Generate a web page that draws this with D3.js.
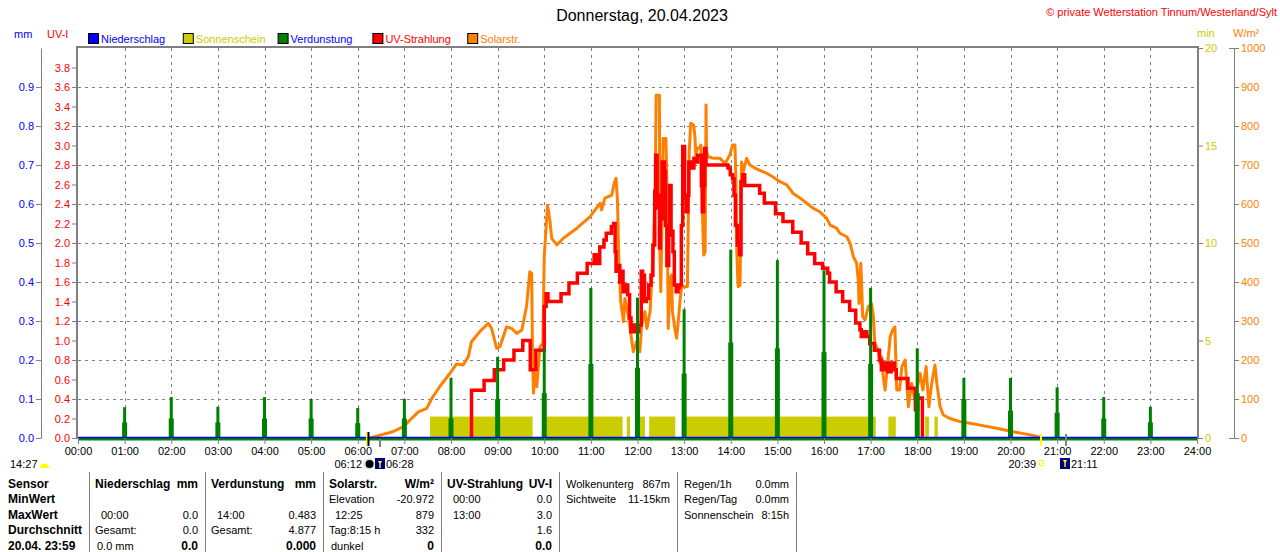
<!DOCTYPE html>
<html lang="de">
<head>
<meta charset="UTF-8">
<title>Donnerstag, 20.04.2023</title>
<script src="https://cdnjs.cloudflare.com/ajax/libs/d3/7.8.5/d3.min.js"></script>
<style>
    body { margin: 0; background: #fff; }
    svg { display: block; font-family: "Liberation Sans", Arial, sans-serif; }
</style>
</head>
<body>
<svg id="chart" width="1280" height="552"></svg>
<script>
// ---- data ----
const tickHours = d3.range(0, 25);
const mmTicks = d3.range(0, 10).map(i => i / 10);
const uvTicks = d3.range(0, 20).map(i => i / 5);
const uvGrid = d3.range(1, 10).map(i => i * 0.4);
const minTicks = [0, 5, 10, 15, 20];
const wTicks = d3.range(0, 11).map(i => i * 100);

const legendNames = ["Niederschlag", "Sonnenschein", "Verdunstung", "UV-Strahlung", "Solarstr."];
const legendBox = ["#0000ff", "#cccc00", "#008000", "#ff0000", "#ff8000"];
const legendText = ["#0000ff", "#cccc00", "#0000ff", "#ff0000", "#ff8000"];

// Verdunstung, hourly spikes (mm): peak and lower shoulder
const verdHours = d3.range(1, 24);
const verdPeak = [0.079, 0.105, 0.08, 0.105, 0.10, 0.077, 0.10, 0.154, 0.208, 0.23, 0.385, 0.36,
                  0.33, 0.483, 0.456, 0.43, 0.385, 0.23, 0.154, 0.154, 0.13, 0.105, 0.08];
const verdLow = [0.04, 0.05, 0.04, 0.05, 0.05, 0.038, 0.05, 0.05, 0.10, 0.115, 0.19, 0.18,
                 0.165, 0.245, 0.23, 0.22, 0.19, 0.115, 0.10, 0.07, 0.065, 0.05, 0.04];

// Niederschlag: nothing all day
const niederschlag = [[0, 0], [24, 0]];

// Sonnenschein intervals [from, to] in hours, level in min/min
const sunIntervals = [[7.55, 9.75], [9.98, 11.68], [11.77, 11.84], [12.05, 12.16], [12.25, 12.81],
                      [13.04, 17.11], [17.38, 17.54], [18.17, 18.25], [18.37, 18.44]];
const sunLevel = 1.1;

// Solarstrahlung [hour, W/m²]
const solar = [
    [6.26, 0], [6.5, 8], [6.75, 16], [6.98, 29], [7.12, 46], [7.30, 67], [7.48, 76], [7.59, 102],
    [7.76, 132], [7.98, 166], [8.12, 190], [8.26, 187], [8.37, 208], [8.44, 247], [8.62, 273],
    [8.80, 294], [8.87, 281], [8.98, 230], [9.05, 234], [9.19, 285], [9.30, 281], [9.41, 268],
    [9.52, 277], [9.62, 337], [9.66, 388], [9.69, 426], [9.73, 422], [9.75, 200], [9.77, 115],
    [9.80, 166], [9.84, 132], [9.91, 234], [9.97, 243], [10.00, 465], [10.07, 597], [10.12, 559],
    [10.16, 512], [10.27, 495], [10.41, 512], [10.70, 538], [10.98, 567], [11.20, 602], [11.23, 585],
    [11.30, 615], [11.45, 623], [11.50, 653], [11.54, 666], [11.57, 610], [11.60, 456], [11.64, 350],
    [11.70, 298], [11.73, 358], [11.80, 315], [11.88, 247], [11.91, 221], [11.98, 247], [12.05, 221],
    [12.09, 290], [12.16, 324], [12.20, 281], [12.27, 324], [12.30, 392], [12.34, 486], [12.38, 649],
    [12.40, 879], [12.47, 879], [12.48, 478], [12.50, 375], [12.52, 521], [12.55, 768], [12.61, 768],
    [12.63, 649], [12.65, 410], [12.66, 281], [12.70, 410], [12.73, 418], [12.75, 324], [12.80, 281],
    [12.84, 256], [12.88, 307], [12.91, 350], [12.95, 392], [12.98, 388], [13.07, 388], [13.09, 563],
    [13.11, 734], [13.14, 807], [13.20, 803], [13.23, 777], [13.25, 726], [13.28, 743], [13.32, 743],
    [13.36, 751], [13.40, 546], [13.42, 469], [13.45, 478], [13.47, 854], [13.48, 734], [13.52, 721],
    [13.63, 717], [13.77, 717], [13.88, 704], [13.98, 726], [14.04, 751], [14.09, 751], [14.11, 666],
    [14.13, 478], [14.15, 410], [14.16, 388], [14.20, 392], [14.23, 708], [14.27, 683], [14.34, 717],
    [14.41, 700], [14.55, 690], [14.75, 680], [14.90, 670], [15.06, 657], [15.20, 649], [15.34, 627],
    [15.49, 615], [15.63, 602], [15.77, 589], [15.91, 580], [16.06, 563], [16.13, 546], [16.27, 538],
    [16.34, 525], [16.49, 516], [16.56, 499], [16.63, 465], [16.70, 448], [16.74, 397], [16.75, 345],
    [16.79, 448], [16.83, 311], [16.88, 303], [16.95, 337], [17.02, 345], [17.06, 311], [17.09, 243],
    [17.16, 226], [17.20, 192], [17.24, 208], [17.27, 157], [17.31, 123], [17.36, 183], [17.42, 260],
    [17.47, 277], [17.52, 285], [17.56, 123], [17.62, 123], [17.67, 183], [17.74, 200], [17.81, 80],
    [17.88, 140], [17.95, 97], [18.06, 166], [18.12, 123], [18.19, 183], [18.25, 80], [18.31, 140],
    [18.38, 187], [18.42, 140], [18.49, 80], [18.56, 59], [18.70, 50], [18.92, 42], [19.13, 38],
    [19.35, 33], [19.70, 25], [20.06, 16], [20.42, 8], [20.60, 3], [20.65, 0]
];

// UV-Strahlung [hour, UV-I], held until next point
const uv = [
    [8.44, 0], [8.44, 0.49], [8.71, 0.59], [8.93, 0.70], [9.13, 0.80], [9.35, 0.90], [9.54, 1.00],
    [9.70, 0.70], [9.82, 0.90], [10.0, 1.35], [10.04, 1.48], [10.08, 1.40], [10.36, 1.48],
    [10.53, 1.59], [10.71, 1.69], [10.92, 1.79], [11.07, 1.88], [11.13, 1.79], [11.19, 1.96],
    [11.28, 2.03], [11.33, 2.10], [11.44, 2.17], [11.49, 2.20], [11.52, 1.91], [11.54, 1.71],
    [11.58, 1.77], [11.62, 1.60], [11.65, 1.71], [11.69, 1.50], [11.75, 1.57], [11.79, 1.47],
    [11.83, 1.23], [11.86, 1.09], [11.90, 1.16], [11.96, 1.09], [12.03, 1.16], [12.08, 1.71],
    [12.11, 1.67], [12.15, 1.40], [12.19, 1.43], [12.24, 1.57], [12.29, 1.67], [12.33, 1.98],
    [12.37, 2.53], [12.39, 2.90], [12.42, 2.36], [12.45, 2.49], [12.47, 1.95], [12.49, 2.25],
    [12.53, 2.83], [12.58, 2.73], [12.60, 2.18], [12.63, 1.77], [12.67, 2.08], [12.69, 2.59],
    [12.72, 2.12], [12.76, 1.91], [12.79, 1.57], [12.83, 1.50], [12.87, 1.54], [12.90, 1.57],
    [12.94, 2.18], [12.97, 2.99], [13.01, 2.46], [13.05, 2.32], [13.08, 2.49], [13.10, 2.83],
    [13.15, 2.77], [13.21, 2.87], [13.26, 2.83], [13.29, 2.90], [13.37, 2.59], [13.39, 2.32],
    [13.42, 2.59], [13.44, 2.97], [13.47, 2.80], [13.94, 2.77], [13.99, 2.70], [14.04, 2.66],
    [14.07, 2.49], [14.10, 2.18], [14.14, 1.98], [14.17, 2.01], [14.19, 1.88], [14.22, 2.63],
    [14.26, 2.70], [14.30, 2.59], [14.62, 2.51], [14.72, 2.41], [14.96, 2.30], [15.12, 2.22],
    [15.33, 2.11], [15.51, 2.00], [15.65, 1.89], [15.80, 1.79], [15.97, 1.74], [16.08, 1.69],
    [16.12, 1.60], [16.26, 1.50], [16.40, 1.40], [16.55, 1.31], [16.68, 1.18], [16.77, 1.11],
    [16.80, 1.04], [16.87, 1.09], [16.92, 1.04], [16.98, 0.97], [17.08, 0.90], [17.19, 0.80],
    [17.23, 0.70], [17.30, 0.77], [17.37, 0.68], [17.44, 0.77], [17.51, 0.70], [17.55, 0.61],
    [17.80, 0.51], [17.96, 0.29], [18.01, 0.41], [18.11, 0]
];

// sunrise / sunset marks under the axis
const sunTimes = [
    { t: 6.2, label: "06:12", kind: "dawn" },
    { t: 6.467, label: "06:28", kind: "rise" },
    { t: 20.65, label: "20:39", kind: "dusk" },
    { t: 21.183, label: "21:11", kind: "set" }
];

// table below the chart
const rowNames = ["Sensor", "MinWert", "MaxWert", "Durchschnitt", "20.04. 23:59"];
const tableCols = [
    [["Niederschlag", "mm"], ["", ""], ["00:00", "0.0"], ["Gesamt:", "0.0"], ["0.0 mm", "0.0"]],
    [["Verdunstung", "mm"], ["", ""], ["14:00", "0.483"], ["Gesamt:", "4.877"], ["", "0.000"]],
    [["Solarstr.", "W/m²"], ["Elevation", "-20.972"], ["12:25", "879"], ["Tag:8:15 h", "332"], ["dunkel", "0"]],
    [["UV-Strahlung", "UV-I"], ["00:00", "0.0"], ["13:00", "3.0"], ["", "1.6"], ["", "0.0"]]
];
const infoCols = [
    [["Wolkenunterg", "867m"], ["Sichtweite", "11-15km"]],
    [["Regen/1h", "0.0mm"], ["Regen/Tag", "0.0mm"], ["Sonnenschein", "8:15h"]]
];

// ---- layout ----
const L = 78, R = 1197, T = 48, B = 438;
const gray = "#808080";
const svg = d3.select("#chart");

const x = d3.scaleLinear().domain([0, 24]).range([L, R]);
const yUV = d3.scaleLinear().domain([0, 4]).range([B, T]);
const yMM = d3.scaleLinear().domain([0, 1]).range([B, T]);
const yW = d3.scaleLinear().domain([0, 1000]).range([B, T]);
const yMin = d3.scaleLinear().domain([0, 20]).range([B, T]);

function txt(px, py, s, fill, size, opts = {}) {
    return svg.append("text")
        .attr("x", px).attr("y", py)
        .attr("fill", fill)
        .attr("font-size", size)
        .attr("font-weight", opts.bold ? "bold" : null)
        .attr("text-anchor", opts.anchor || "start")
        .text(s);
}

// title and copyright
txt(642, 21, "Donnerstag, 20.04.2023", "#000", 16, { anchor: "middle" });
txt(1277, 16, "© private Wetterstation Tinnum/Westerland/Sylt", "#ff0000", 11, { anchor: "end" });

// unit labels
txt(14, 38, "mm", "#0000ff", 11);
txt(47, 38, "UV-I", "#ff0000", 11);
txt(1197, 37, "min", "#cccc00", 11);
txt(1233, 37, "W/m²", "#ff8000", 11);

// legend
legendNames.forEach((n, i) => {
    const lx = 88 + i * 94.8;
    svg.append("rect").attr("x", lx + 0.5).attr("y", 33.5).attr("width", 10).attr("height", 10)
        .attr("fill", legendBox[i]).attr("stroke", "#000");
    txt(lx + 13, 42.5, n, legendText[i], 11);
});

// grid
const grid = svg.append("g").attr("stroke", gray).attr("stroke-dasharray", "3,4");
grid.selectAll("line.h").data(uvGrid).join("line").attr("class", "h")
    .attr("x1", L).attr("x2", R)
    .attr("y1", d => Math.round(yUV(d)) + 0.5).attr("y2", d => Math.round(yUV(d)) + 0.5);
grid.selectAll("line.v").data(d3.range(1, 24)).join("line").attr("class", "v")
    .attr("y1", T).attr("y2", B)
    .attr("x1", d => Math.round(x(d)) + 0.5).attr("x2", d => Math.round(x(d)) + 0.5);

// plot frame
svg.append("rect").attr("x", L - 1).attr("y", T - 1).attr("width", R - L + 2).attr("height", B - T + 1)
    .attr("fill", "none").attr("stroke", gray).attr("stroke-width", 2);

// Sonnenschein blocks
svg.append("g").selectAll("rect").data(sunIntervals).join("rect")
    .attr("x", d => x(d[0])).attr("width", d => x(d[1]) - x(d[0]))
    .attr("y", yMin(sunLevel)).attr("height", yMin(0) - yMin(sunLevel))
    .attr("fill", "#cccc00");

// Solarstrahlung
svg.append("path").datum(solar)
    .attr("fill", "none").attr("stroke", "#ff8000").attr("stroke-width", 3)
    .attr("stroke-linejoin", "round")
    .attr("d", d3.line().x(d => x(d[0])).y(d => yW(d[1])));

// UV-Strahlung
svg.append("path").datum(uv)
    .attr("fill", "none").attr("stroke", "#ff0000").attr("stroke-width", 3.5)
    .attr("d", d3.line().curve(d3.curveStepAfter).x(d => x(d[0])).y(d => yUV(d[1])));

// Verdunstung spikes
const verd = svg.append("g").attr("fill", "#008000");
verd.selectAll("rect.low").data(verdHours).join("rect").attr("class", "low")
    .attr("x", h => x(h) - 2.5).attr("width", 5)
    .attr("y", (h, i) => yMM(verdLow[i])).attr("height", (h, i) => yMM(0) - yMM(verdLow[i]));
verd.selectAll("rect.peak").data(verdHours).join("rect").attr("class", "peak")
    .attr("x", h => x(h) - 1.5).attr("width", 3)
    .attr("y", (h, i) => yMM(verdPeak[i])).attr("height", (h, i) => yMM(0) - yMM(verdPeak[i]));

// zero lines: Verdunstung (green) and Niederschlag (blue)
svg.append("path").datum(niederschlag)
    .attr("stroke", "#008000").attr("stroke-width", 2.5).attr("fill", "none")
    .attr("d", d3.line().x(d => x(d[0])).y(d => yMM(d[1]) + 1.2));
svg.append("path").datum(niederschlag)
    .attr("stroke", "#0000ff").attr("stroke-width", 1.5).attr("fill", "none")
    .attr("d", d3.line().x(d => x(d[0])).y(d => yMM(d[1]) - 0.5));

// axes
function styleAxis(g, color) {
    g.selectAll("line").attr("stroke", gray);
    g.selectAll("path.domain").attr("stroke", gray);
    g.selectAll("text").attr("fill", color).attr("font-size", 11)
        .attr("font-family", "\"Liberation Sans\", Arial, sans-serif");
}

svg.append("g").attr("transform", "translate(41,0)")
    .call(d3.axisLeft(yMM).tickValues(mmTicks).tickFormat(d3.format(".1f"))
        .tickSize(5).tickSizeOuter(0).tickPadding(2))
    .call(g => styleAxis(g, "#0000ff"));

svg.append("g").attr("transform", `translate(${L - 1},0)`)
    .call(d3.axisLeft(yUV).tickValues(uvTicks).tickFormat(d3.format(".1f"))
        .tickSize(5).tickSizeOuter(0).tickPadding(2))
    .call(g => g.select(".domain").remove())
    .call(g => styleAxis(g, "#ff0000"));

svg.append("g").attr("transform", `translate(${R + 1},0)`)
    .call(d3.axisRight(yMin).tickValues(minTicks).tickSize(5).tickSizeOuter(0).tickPadding(2))
    .call(g => g.select(".domain").remove())
    .call(g => styleAxis(g, "#cccc00"));

svg.append("g").attr("transform", "translate(1234,0)")
    .call(d3.axisRight(yW).tickValues(wTicks).tickFormat(d3.format("d"))
        .tickSize(5).tickSizeOuter(0).tickPadding(2))
    .call(g => styleAxis(g, "#ff8000"))
    .call(g => g.selectAll(".tick").filter(d => d === 0 || d === 1000)
        .append("line").attr("x1", -5).attr("x2", 0).attr("stroke", gray));

svg.append("g").attr("transform", `translate(0,${B})`)
    .call(d3.axisBottom(x).tickValues(tickHours).tickFormat(h => d3.format("02d")(h) + ":00")
        .tickSize(6).tickSizeOuter(0).tickPadding(3))
    .call(g => g.select(".domain").remove())
    .call(g => styleAxis(g, "#000"));

// sunrise / sunset marks
sunTimes.forEach(s => {
    const sx = Math.round(x(s.t));
    if (s.kind === "dawn") {
        svg.append("rect").attr("x", sx - 1).attr("y", 432).attr("width", 1.5).attr("height", 14).attr("fill", "#ffff00");
        svg.append("rect").attr("x", sx + 0.5).attr("y", 432).attr("width", 2).attr("height", 14).attr("fill", "#000");
        svg.append("circle").attr("cx", sx + 2).attr("cy", 464).attr("r", 5).attr("fill", "#fff").attr("stroke", "#ccc");
        svg.append("circle").attr("cx", sx + 2.5).attr("cy", 464).attr("r", 4).attr("fill", "#000");
        txt(sx - 5, 468, s.label, "#000", 11, { anchor: "end" });
    } else if (s.kind === "rise") {
        svg.append("rect").attr("x", sx - 1).attr("y", 439).attr("width", 2).attr("height", 8).attr("fill", gray);
        svg.append("rect").attr("x", sx - 5).attr("y", 458).attr("width", 10).attr("height", 11).attr("fill", "#000080");
        svg.append("path").attr("d", `M${sx - 2},461 L${sx + 2},461 L${sx},465 Z M${sx - 0.7},464 h1.4 v4 h-1.4 Z`).attr("fill", "#ffff00");
        txt(sx + 6, 468, s.label, "#000", 11);
    } else if (s.kind === "dusk") {
        svg.append("rect").attr("x", sx - 1).attr("y", 434).attr("width", 2).attr("height", 12).attr("fill", "#ffff00");
        svg.append("rect").attr("x", sx - 1.5).attr("y", 460.5).attr("width", 4).attr("height", 5)
            .attr("fill", "none").attr("stroke", "#ffff00");
        txt(sx - 5, 468, s.label, "#000", 11, { anchor: "end" });
    } else {
        svg.append("rect").attr("x", sx - 1).attr("y", 434).attr("width", 2).attr("height", 12).attr("fill", gray);
        svg.append("rect").attr("x", sx - 6).attr("y", 458).attr("width", 10).attr("height", 11).attr("fill", "#000080");
        svg.append("path").attr("d", `M${sx - 3},460 L${sx + 1},460 L${sx - 1},464 Z M${sx - 1.7},463 h1.4 v4 h-1.4 Z`).attr("fill", "#ffff00");
        txt(sx + 5, 468, s.label, "#000", 11);
    }
});
txt(10, 468, "14:27", "#000", 11);
svg.append("path").attr("d", "M40,468 a4.5,4.5 0 0 1 9,0 Z").attr("fill", "#ffff00");

// table
const seps = [89, 205, 323, 441, 559, 677, 796];
const rowY = d3.range(5).map(i => 488 + i * 15.4);
svg.append("g").attr("stroke", gray).selectAll("line").data(seps).join("line")
    .attr("x1", d => d + 0.5).attr("x2", d => d + 0.5).attr("y1", 472).attr("y2", 552);

rowNames.forEach((n, r) => txt(8, rowY[r], n, "#000", 12, { bold: true }));
tableCols.forEach((col, c) => {
    const left = seps[c] + 6, right = seps[c + 1] - 7;
    col.forEach((cell, r) => {
        const indent = /^\d\d:\d\d$/.test(cell[0]) ? 6 : (r === 4 ? 2 : 0);
        txt(left + indent, rowY[r], cell[0], "#000", r === 0 ? 12 : 11, { bold: r === 0 });
        txt(right, rowY[r], cell[1], "#000", r === 0 || r === 4 ? 12 : 11, { bold: r === 0 || r === 4, anchor: "end" });
    });
});
infoCols.forEach((col, c) => {
    const left = seps[c + 4] + 7, right = seps[c + 5] - 7;
    col.forEach((cell, r) => {
        txt(left, rowY[r], cell[0], "#000", 11);
        txt(right, rowY[r], cell[1], "#000", 11, { anchor: "end" });
    });
});
</script>
</body>
</html>
